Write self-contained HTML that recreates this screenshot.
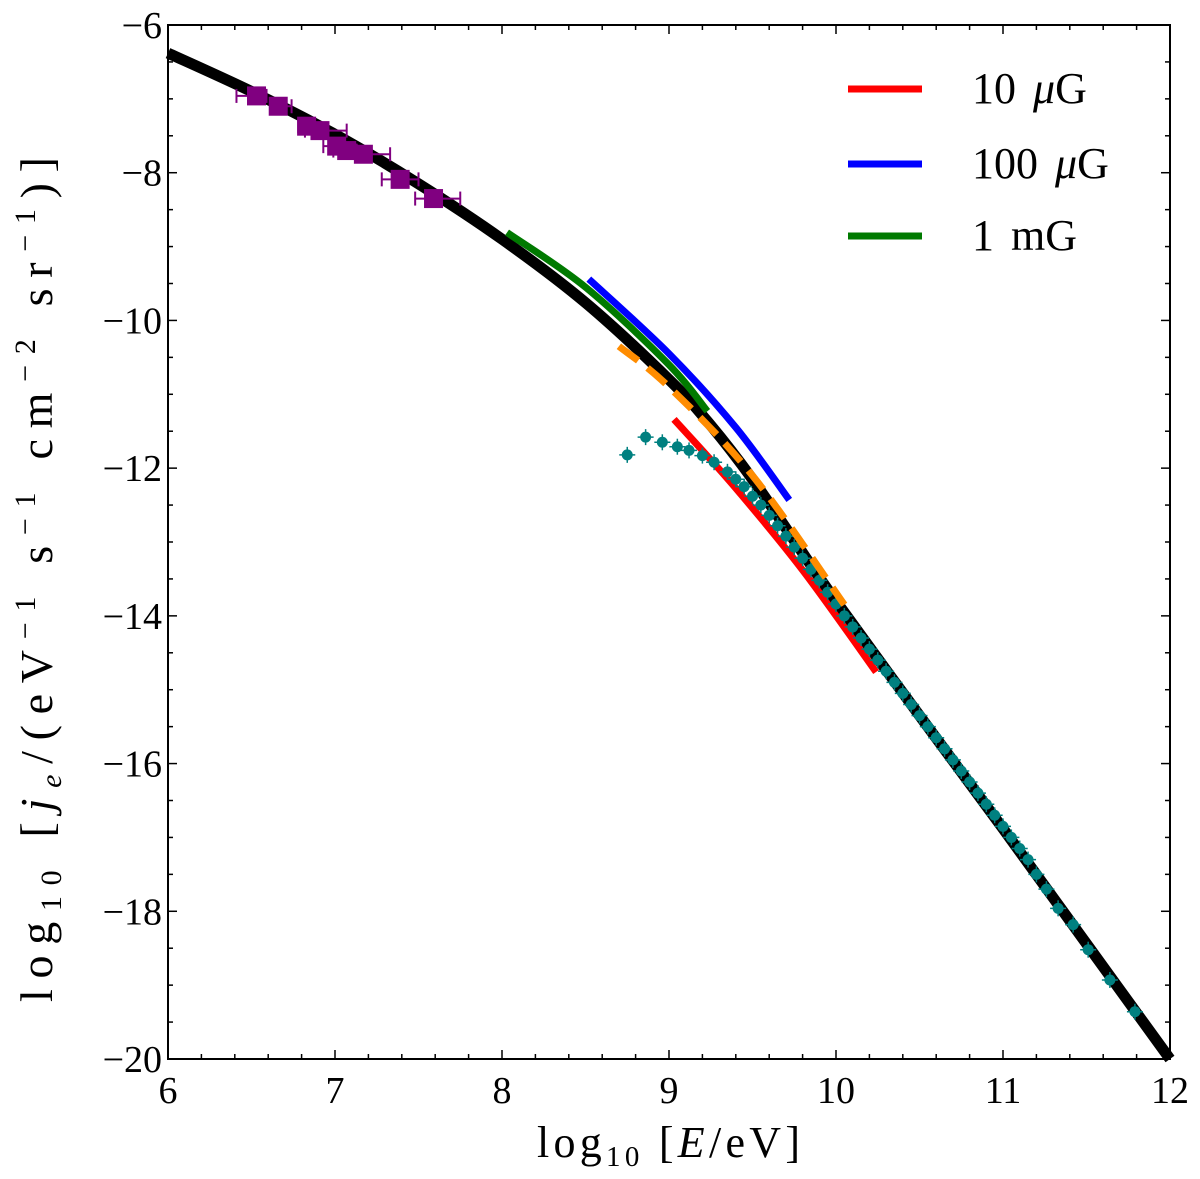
<!DOCTYPE html>
<html><head><meta charset="utf-8"><style>
html,body{margin:0;padding:0;background:#fff;}
svg text{font-family:"Liberation Serif","DejaVu Serif",serif;fill:#000;}
</style></head><body>
<svg id="chart" width="1200" height="1174" viewBox="0 0 1200 1174" xmlns="http://www.w3.org/2000/svg">
<g id="axes"></g>
<g id="plot"></g>
<g id="legend"></g>
</svg>
<script>
const xTicks = [6,7,8,9,10,11,12];
const yTicks = [-6,-8,-10,-12,-14,-16,-18,-20];
const modelX = [6,6.5,7,7.5,8,8.5,9,9.25,9.5,9.75,10,10.5,11,11.5,12];
const modelY = [-6.38,-6.9,-7.48,-8.15,-8.9,-9.76,-10.8,-11.42,-12.15,-12.98,-13.8,-15.35,-16.88,-18.44,-20];
const redX = [9.03,9.38,9.8,10.24];
const redY = [-11.34,-12.22,-13.38,-14.76];
const blueX = [8.52,9.0,9.4,9.72];
const blueY = [-9.44,-10.45,-11.45,-12.43];
const greenX = [8.03,8.5,9.0,9.23];
const greenY = [-8.81,-9.55,-10.6,-11.23];
const orangeX = [8.7,9.0,9.5,10.05];
const orangeY = [-10.35,-10.9,-12.1,-13.85];
const sqX = [6.53,6.66,6.83,6.91,7.01,7.07,7.17,7.39,7.59];
const sqY = [-6.96,-7.10,-7.37,-7.43,-7.64,-7.70,-7.75,-8.09,-8.35];
const sqErrLo = [0.12,0.04,0.05,0.09,0.08,0.08,0.04,0.11,0.11];
const sqErrHi = [0.06,0.08,0.04,0.16,0.04,0.06,0.16,0.11,0.16];
const tealX = [8.75,8.86,8.96,9.05,9.12,9.2,9.27,9.35,9.4,9.45,9.5,9.55,9.6,9.65,9.7,9.75,9.8,9.85,9.9,9.95,10.0,10.05,10.1,10.15,10.2,10.25,10.3,10.35,10.4,10.45,10.5,10.55,10.6,10.65,10.7,10.75,10.8,10.85,10.9,10.95,11.0,11.05,11.1,11.15,11.2,11.26,11.33,11.42,11.51,11.64,11.79];
const tealY = [-11.82,-11.58,-11.65,-11.71,-11.76,-11.83,-11.92,-12.05,-12.15,-12.25,-12.38,-12.5,-12.64,-12.78,-12.92,-13.07,-13.22,-13.37,-13.52,-13.68,-13.84,-14.0,-14.15,-14.3,-14.45,-14.6,-14.75,-14.9,-15.05,-15.2,-15.35,-15.5,-15.65,-15.8,-15.95,-16.1,-16.25,-16.4,-16.55,-16.7,-16.85,-17.0,-17.15,-17.3,-17.5,-17.7,-17.96,-18.18,-18.52,-18.93,-19.36];
const legendLabels = ["10 ","100 ","1 mG"];

const NS="http://www.w3.org/2000/svg";
const L=168,R=1170,T=25,B=1059;
function xs(v){return L+(v-6)/6*(R-L);}
function ys(v){return T+(-6-v)/14*(B-T);}
function mk(tag,attrs,parent){const e=document.createElementNS(NS,tag);for(const k in attrs)e.setAttribute(k,attrs[k]);parent.appendChild(e);return e;}
const axes=document.getElementById('axes'),plot=document.getElementById('plot'),leg=document.getElementById('legend');

function spline(X,Y){
  const P=X.map((x,i)=>[xs(x),ys(Y[i])]);
  let d='M'+P[0][0]+','+P[0][1];
  for(let i=0;i<P.length-1;i++){
    const p0=P[Math.max(0,i-1)],p1=P[i],p2=P[i+1],p3=P[Math.min(P.length-1,i+2)];
    const c1=[p1[0]+(p2[0]-p0[0])/6,p1[1]+(p2[1]-p0[1])/6];
    const c2=[p2[0]-(p3[0]-p1[0])/6,p2[1]-(p3[1]-p1[1])/6];
    d+=' C'+c1+' '+c2+' '+p2;
  }
  return d;
}
function poly(X,Y,color,w,name,dash){
  const p=mk('path',{d:spline(X,Y),fill:'none',stroke:color,'stroke-width':w},plot);
  if(dash)p.setAttribute('stroke-dasharray',dash);
  
  
}
poly(modelX,modelY,'#000',11,'model-curve');
poly(greenX,greenY,'#007a00',7,'line-1mG');
poly(blueX,blueY,'#0000ff',7,'line-100uG');
poly(redX,redY,'#ff0000',7,'line-10uG');

sqX.forEach((x,i)=>{
  const g=mk('g',{},plot);
  
  
  const y=ys(sqY[i]),x0=xs(x-sqErrLo[i]),x1=xs(x+sqErrHi[i]);
  mk('line',{x1:x0,x2:x1,y1:y,y2:y,stroke:'#800080','stroke-width':2},g);
  mk('line',{x1:x0,x2:x0,y1:y-7,y2:y+7,stroke:'#800080','stroke-width':2},g);
  mk('line',{x1:x1,x2:x1,y1:y-7,y2:y+7,stroke:'#800080','stroke-width':2},g);
  mk('rect',{x:xs(x)-9.5,y:y-9.5,width:19,height:19,fill:'#800080'},g);
});
tealX.forEach((x,i)=>{
  const g=mk('g',{},plot);
  
  
  const cx=xs(x),cy=ys(tealY[i]);
  mk('line',{x1:cx-8,x2:cx+8,y1:cy,y2:cy,stroke:'#008080','stroke-width':1.5},g);
  mk('line',{x1:cx,x2:cx,y1:cy-8,y2:cy+8,stroke:'#008080','stroke-width':1.5},g);
  mk('circle',{cx:cx,cy:cy,r:5.5,fill:'#008080'},g);
});
poly(orangeX,orangeY,'#ff8c00',7,'orange-dashed-line','24 12');

const fr=mk('rect',{x:L,y:T,width:R-L,height:B-T,fill:'none',stroke:'#000','stroke-width':2},axes);


for(let v=6;v<=12.001;v+=0.2){
  const x=xs(v),major=Math.abs(v-Math.round(v))<1e-6,len=major?9:5;
  mk('line',{x1:x,x2:x,y1:B,y2:B-len,stroke:'#000','stroke-width':1.5},axes);
  mk('line',{x1:x,x2:x,y1:T,y2:T+len,stroke:'#000','stroke-width':1.5},axes);
}
for(let v=-20;v<=-6;v+=0.5){
  const y=ys(v),major=(v%2===0),len=major?9:5;
  mk('line',{x1:L,x2:L+len,y1:y,y2:y,stroke:'#000','stroke-width':1.5},axes);
  mk('line',{x1:R,x2:R-len,y1:y,y2:y,stroke:'#000','stroke-width':1.5},axes);
}
xTicks.forEach(v=>{
  const t=mk('text',{x:xs(v),y:B+44,'font-size':38,'text-anchor':'middle'},axes);
  t.textContent=String(v);
  
  
});
yTicks.forEach(v=>{
  const t=mk('text',{x:L-6,y:ys(v)+13,'font-size':38,'text-anchor':'end'},axes);
  t.textContent='−'+Math.abs(v);
  
  
});
const xl=mk('text',{x:537,y:1157,'font-size':44,textLength:263,lengthAdjust:'spacing'},axes);
xl.innerHTML='log<tspan font-size="29" dy="9">10</tspan><tspan dy="-9"> [</tspan><tspan font-style="italic">E</tspan>/eV]';


const yl=mk('text',{x:0,y:0,'font-size':46,textLength:845,lengthAdjust:'spacing',transform:'translate(52,1002) rotate(-90)'},axes);
yl.innerHTML='log<tspan font-size="30" dy="9">10</tspan><tspan dy="-9"> [</tspan><tspan font-style="italic">j</tspan><tspan font-size="30" font-style="italic" dy="9">e</tspan><tspan dy="-9">/(eV</tspan><tspan font-size="30" dy="-17">−1</tspan><tspan dy="17"> s</tspan><tspan font-size="30" dy="-17">−1</tspan><tspan dy="17"> cm</tspan><tspan font-size="30" dy="-17">−2</tspan><tspan dy="17"> sr</tspan><tspan font-size="30" dy="-17">−1</tspan><tspan dy="17">)]</tspan>';



const legColors=['#ff0000','#0000ff','#007a00'];
const legY=[89,164,236];
legendLabels.forEach((lab,i)=>{
  const g=mk('g',{},leg);
  
  
  mk('line',{x1:848,x2:922,y1:legY[i],y2:legY[i],stroke:legColors[i],'stroke-width':7},g);
  const t=mk('text',{x:972,y:legY[i]+14,'font-size':44,'word-spacing':6},g);
  if(i<2){t.textContent=lab;const a=mk('tspan',{'font-style':'italic'},t);a.textContent='μ';const b=mk('tspan',{},t);b.textContent='G';}
  else t.textContent=lab;
});
</script>
</body></html>
